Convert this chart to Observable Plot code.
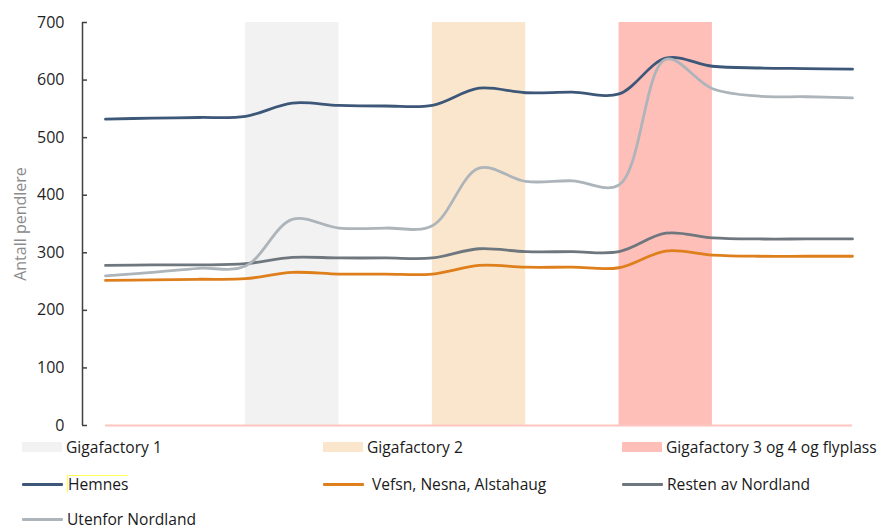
<!DOCTYPE html>
<html>
<head>
<meta charset="utf-8">
<script src="https://cdn.jsdelivr.net/npm/d3@7"></script>
<script src="https://cdn.jsdelivr.net/npm/@observablehq/plot@0.6"></script>
<style>
  html, body { margin: 0; padding: 0; background: #fff; }
  body { position: relative; width: 880px; height: 529px; overflow: hidden; font-family: "Open Sans", sans-serif; }
  #chart { position: absolute; top: 0; left: 0; }
  #legend { position: absolute; top: 0; left: 0; width: 880px; font-size: 15.6px; color: #1a1a1a; }
  .item { position: absolute; height: 20px; display: flex; align-items: center; white-space: nowrap; }
  .sw { width: 40px; height: 10px; margin-right: 4px; flex: none; }
  .ln { width: 41px; height: 3px; margin-right: 4px; flex: none; border-radius: 1px; }
  .hl { border-top: 1px solid #ffff55; border-left: 1px solid #ffff55; line-height: 17px; }
</style>
</head>
<body>
<div id="chart"></div>
<div id="legend"></div>
<script>
// ---- data ----
const periods = d3.range(17); // evenly spaced time steps
const seriesNames = ["Hemnes", "Vefsn, Nesna, Alstahaug", "Resten av Nordland", "Utenfor Nordland"];
const hemnes   = [532, 534, 535, 537, 560, 556, 555, 556, 586, 578, 579, 576, 638, 624, 621, 620, 619];
const vefsn    = [252, 253, 254, 255, 266, 263, 263, 263, 278, 275, 275, 274, 303, 296, 294, 294, 294];
const resten   = [278, 279, 279, 281, 292, 291, 291, 291, 307, 302, 302, 302, 334, 326, 324, 324, 324];
const utenfor  = [260, 266, 273, 277, 358, 343, 343, 347, 447, 424, 425, 418, 636, 585, 572, 571, 569];
const seriesColors = ["#3c5778", "#de7f1c", "#6e767e", "#adb4ba"];

const bandNames  = ["Gigafactory 1", "Gigafactory 2", "Gigafactory 3 og 4 og flyplass"];
const bandStart  = [3, 7, 11];
const bandEnd    = [5, 9, 13];
const bandColors = ["#f2f2f2", "#fae6cc", "#ffbfb9"];

const yTicks = [0, 100, 200, 300, 400, 500, 600, 700];
const yLabel = "Antall pendlere";

// ---- tables ----
const seriesValues = [hemnes, vefsn, resten, utenfor];
const rows = seriesNames.flatMap((s, k) => periods.map((p, i) => ({series: s, t: p, v: seriesValues[k][i]})));
const bands = bandNames.map((n, i) => ({name: n, x1: bandStart[i], x2: bandEnd[i], color: bandColors[i]}));

const xDomain = [-0.4926, 16];

const chart = Plot.plot({
  width: 880,
  height: 445,
  marginLeft: 82,
  marginRight: 28,
  marginTop: 22,
  marginBottom: 20,
  style: {fontFamily: "Open Sans, sans-serif", background: "transparent"},
  x: {domain: xDomain, axis: null},
  y: {domain: [0, 700]},
  color: {domain: seriesNames, range: seriesColors},
  marks: [
    Plot.rectX(bands, {x1: "x1", x2: "x2", y1: 0, y2: 700, fill: "color"}),
    Plot.ruleY([0], {x1: periods[0], x2: periods[periods.length - 1], stroke: "#ffc6c0", strokeWidth: 2}),
    Plot.ruleX([xDomain[0]], {y1: 0, y2: 700, stroke: "#404040", strokeWidth: 1.5}),
    Plot.axisY({ticks: yTicks, tickSize: 5, dx: 5, tickPadding: 18, fontSize: 16, fill: "#1f1f1f", stroke: "#404040", strokeWidth: 1.5, label: null}),
    Plot.text([yLabel], {frameAnchor: "left", textAnchor: "middle", lineAnchor: "middle", rotate: -90, dx: -62, fill: "#8c8c8c", fontSize: 16}),
    Plot.line(rows, {x: "t", y: "v", z: "series", stroke: "series", strokeWidth: 2.8, curve: "catmull-rom"})
  ]
});
document.getElementById("chart").appendChild(chart);

// ---- legend ----
const legend = document.getElementById("legend");
const colLeft = [22, 323, 622];
const rowCenter = [447, 484, 519];
const items = [
  ...bands.map(b => ({type: "band", name: b.name, color: b.color})),
  ...seriesNames.map((s, i) => ({type: "line", name: s, color: seriesColors[i]}))
];
items.forEach((it, k) => {
  const r = Math.floor(k / 3), c = k % 3;
  const d = document.createElement("div");
  d.className = "item";
  d.style.left = colLeft[c] + "px";
  d.style.top = (rowCenter[r] - 10) + "px";
  const sw = document.createElement("span");
  sw.className = it.type === "band" ? "sw" : "ln";
  sw.style.background = it.color;
  const tx = document.createElement("span");
  tx.textContent = it.name;
  if (it.name === "Hemnes") tx.className = "hl";
  if (it.name === "Vefsn, Nesna, Alstahaug") tx.style.marginLeft = "4px";
  d.appendChild(sw); d.appendChild(tx);
  legend.appendChild(d);
});
</script>
</body>
</html>
